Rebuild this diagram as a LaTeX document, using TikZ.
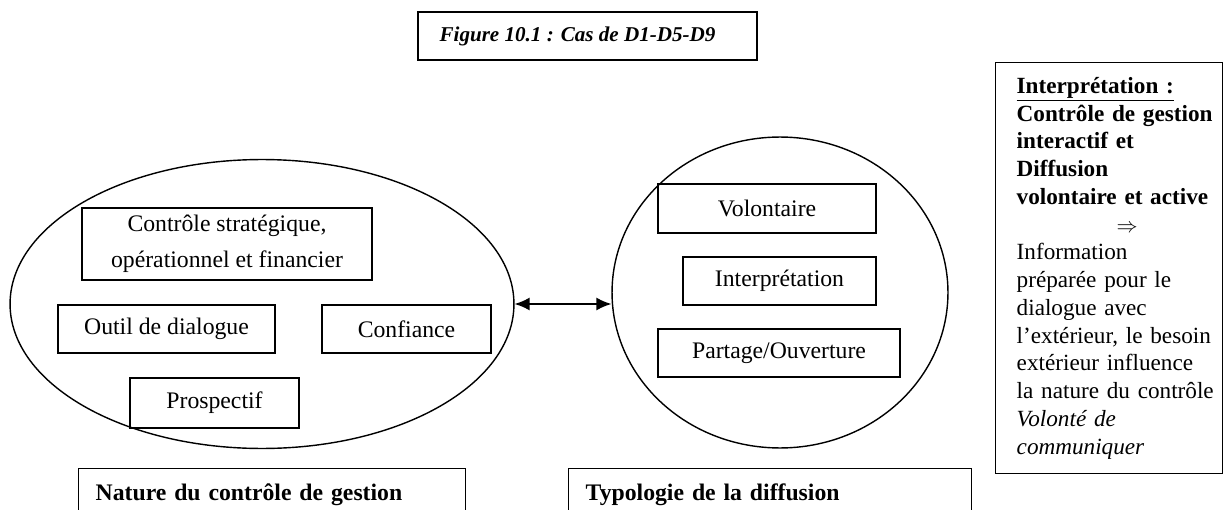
\documentclass[tikz,border=0pt]{standalone}
\usepackage{fontspec}
\setmainfont{Liberation Serif}
\usetikzlibrary{shapes,arrows.meta,positioning}

\begin{document}
\begin{tikzpicture}[
        x=0.02cm, y=-0.02cm,
        font=\fontsize{13.5}{15.8}\selectfont,
        box/.style={
            rectangle,
            draw,
            line width=0.8pt,
            inner sep=0pt,
            minimum height=0.96cm,
            align=center
        },
        oval/.style={
            ellipse,
            draw,
            line width=0.8pt,
            inner sep=0pt
        },
        caption/.style={
            box,
            anchor=north west,
            align=left,
            inner xsep=0.34cm,
            minimum height=1.04cm,
            font=\fontsize{13.5}{15.8}\selectfont\bfseries
        },
        arrow/.style={
            <->,
            >={Latex[length=0.3cm,width=0.26cm]},
            line width=0.8pt
        }
    ]
    \clip (0,0) rectangle (1224,510);
    % Title
    \node[box, minimum width=6.78cm, font=\fontsize{12}{14}\selectfont\bfseries\itshape] (titre) at (587.5,36) {Figure 10.1 : Cas de D1-D5-D9\hspace{0.4cm}};
    % Nature du controle (ellipse)
    \node[oval, minimum width=10.08cm, minimum height=5.78cm] (nature) at (262,304) {};
    \node[box, minimum width=5.8cm, minimum height=1.44cm] (strat) at (227,244) {Contrôle stratégique,\\[4.7pt]opérationnel et financier};
    \node[box, minimum width=4.34cm] (outil) at (166.5,329) {Outil de dialogue};
    \node[box, minimum width=3.38cm] (confiance) at (406.5,329) {Confiance};
    \node[box, minimum width=3.38cm, minimum height=1cm] (prospectif) at (214.5,403) {Prospectif};
    % Typologie de la diffusion (circle)
    \node[oval, minimum width=6.72cm, minimum height=6.22cm] (diffusion) at (780,292.5) {};
    \node[box, minimum width=4.36cm, minimum height=0.98cm] (volontaire) at (767,208.5) {Volontaire};
    \node[box, minimum width=3.86cm] (interp) at (779.5,281) {Interprétation};
    \node[box, minimum width=4.84cm] (partage) at (779,353) {Partage/Ouverture};
    % Link between both
    \draw[arrow] (nature.east) -- (nature.east -| diffusion.west);
    % Captions
    \node[caption, text width=7.06cm] (capnature) at (78,468) {Nature du contrôle de gestion};
    \node[caption, text width=7.38cm] (captypo) at (568,468) {Typologie de la diffusion};
    % Interpretation box
    \node[box, anchor=north west, align=left, text width=4.54cm, minimum height=8.22cm,
          font=\fontsize{13.2}{15.8}\selectfont,
          execute at begin node=\setlength{\leftskip}{0.42cm}] (lecture) at (995,62) {%
        \textbf{\underline{Interprétation :}}\\
        \textbf{Contrôle de gestion}\\
        \textbf{interactif et}\\
        \textbf{Diffusion}\\
        \textbf{volontaire et active}\\
        \hspace*{2cm}$\Rightarrow$\\
        Information\\
        préparée pour le\\
        dialogue avec\\
        l’extérieur, le besoin\\
        extérieur influence\\
        la nature du contrôle\\
        \textit{Volonté de}\\
        \textit{communiquer}};
\end{tikzpicture}
\end{document}
